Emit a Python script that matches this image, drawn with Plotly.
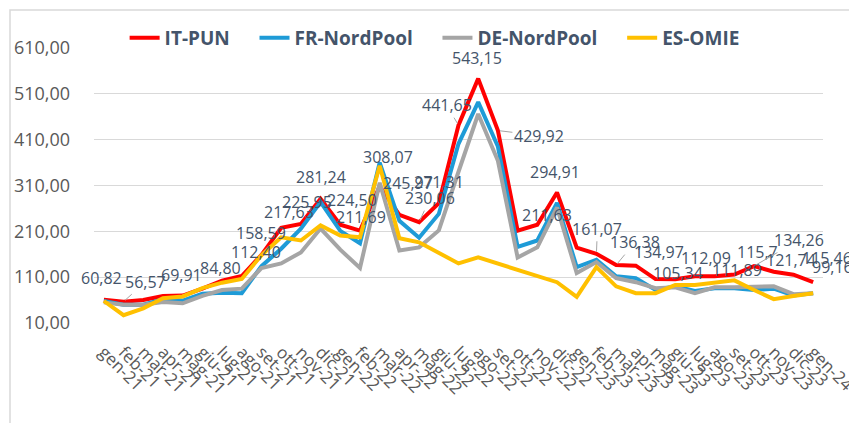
import plotly.graph_objects as go

months = ["gen-21","feb-21","mar-21","apr-21","mag-21","giu-21","lug-21","ago-21","set-21","ott-21","nov-21","dic-21",
          "gen-22","feb-22","mar-22","apr-22","mag-22","giu-22","lug-22","ago-22","set-22","ott-22","nov-22","dic-22",
          "gen-23","feb-23","mar-23","apr-23","mag-23","giu-23","lug-23","ago-23","set-23","ott-23","nov-23","dic-23",
          "gen-24"]

it_pun = [60.82, 56.57, 60.37, 69.02, 69.91, 84.80, 102.65, 112.40, 158.59, 217.63, 225.95, 281.24,
          224.50, 211.69, 308.07, 245.97, 230.06, 271.31, 441.65, 543.15, 429.92, 211.63, 224.51, 294.91,
          174.49, 161.07, 136.38, 134.97, 105.73, 105.34, 112.09, 111.89, 115.71, 134.26, 121.74, 115.46,
          99.16]
fr_nordpool = [58, 50, 50, 62, 59, 74, 76, 75, 134, 172, 216, 274,
               211, 184, 360, 233, 196, 248, 401, 492, 395, 176, 190, 272,
               132, 148, 112, 108, 82, 90, 80, 86, 86, 82, 85, 70,
               75]
de_nordpool = [55, 50, 50, 56, 53, 69, 82, 85, 130, 140, 164, 216,
               170, 130, 316, 168, 175, 212, 340, 466, 364, 153, 175, 262,
               119, 143, 108, 99, 86, 88, 75, 88, 88, 88, 90, 73,
               75]
es_omie = [58, 27, 42, 64, 68, 86, 98, 106, 158, 197, 190, 223,
           201, 197, 353, 195, 186, 164, 140, 153, 140, 125, 114, 99,
           67, 132, 90, 75, 75, 93, 93, 97, 103, 82, 62, 69,
           75]

series_names = ["IT-PUN", "FR-NordPool", "DE-NordPool", "ES-OMIE"]
series_colors = ["#FF0000", "#1E9BD7", "#A5A5A5", "#FFC000"]

y_tickvals = [10, 110, 210, 310, 410, 510, 610]
y_ticktext = ["10,00", "110,00", "210,00", "310,00", "410,00", "510,00", "610,00"]

# IT-PUN data labels: (index, text)
label_idx = [0, 1, 4, 5, 7, 8, 9, 10, 11, 12, 13, 14, 15, 16, 17, 18, 19, 20, 21, 23,
             25, 26, 27, 29, 30, 31, 32, 33, 34, 35, 36]
label_txt = ["60,82", "56,57", "69,91", "84,80", "112,40", "158,59", "217,63", "225,95", "281,24",
             "224,50", "211,69", "308,07", "245,97", "230,06", "271,31", "441,65", "543,15", "429,92",
             "211,63", "294,91", "161,07", "136,38", "134,97", "105,34", "112,09", "111,89", "115,7",
             "134,26", "121,74", "115,46", "99,16"]

# label placement styles (pixel offsets dx, dy and leader-line flag)
label_style = [(-2, -22, False), (22, -20, True), (-1, -21, False), (18, -21, False), (14, -24, False),
               (0, -22, False), (8, -16, False), (6, -22, False), (0, -22, False), (12, -25, False),
               (1, -14, False), (8, -29, False), (9, -32, False), (11, -24, True), (0, -21, False),
               (-12, -20, True), (-1, -21, False), (41, 5, True), (29, -16, False), (-2, -20, False),
               (1, -25, True), (19, -23, True), (23, -14, False), (3, -6, False), (11, -18, False),
               (22, -6, False), (23, -23, False), (45, -26, True), (17, -12, False), (34, -17, False),
               (19, -15, False)]

PAD = "\u00a0" * 4

fig = go.Figure()
for name, vals, col in zip(series_names, [it_pun, fr_nordpool, de_nordpool, es_omie], series_colors):
    fig.add_trace(go.Scatter(x=months, y=vals, mode="lines", name=name + PAD,
                             line=dict(color=col, width=4), hoverinfo="x+y+name"))

label_font = dict(family="Open Sans, sans-serif", size=16, color="#44546A")
annotations = []
for i, txt, (dx, dy, lead) in zip(label_idx, label_txt, label_style):
    if lead:
        annotations.append(dict(x=months[i], y=it_pun[i], xref="x", yref="y", text=txt,
                                showarrow=True, ax=dx, ay=dy, arrowhead=0, arrowwidth=1,
                                arrowcolor="#A6A6A6", standoff=2, font=label_font))
    else:
        annotations.append(dict(x=months[i], y=it_pun[i], xref="x", yref="y", text=txt,
                                showarrow=False, xshift=dx, yshift=-dy, font=label_font))

fig.update_layout(
    width=857, height=423,
    margin=dict(l=86, r=42, t=40, b=108, autoexpand=False),
    paper_bgcolor="white", plot_bgcolor="white",
    font=dict(family="Open Sans, sans-serif", color="#595959"),
    showlegend=True,
    legend=dict(orientation="h", x=0.042, xanchor="left", y=1.037, yanchor="middle",
                font=dict(family="Open Sans, sans-serif", size=19, color="#44546A", weight="bold"),
                bgcolor="rgba(0,0,0,0)"),
    xaxis=dict(type="category", range=[-0.5, 36.5], showgrid=False, zeroline=False,
               showline=False, ticks="", tickangle=45, automargin=False, ticklabelstandoff=15,
               tickmode="array", tickvals=months, ticktext=months,
               tickfont=dict(size=17, color="#595959")),
    yaxis=dict(range=[10, 610], tickvals=y_tickvals, ticktext=y_ticktext, showgrid=True,
               gridcolor="#D9D9D9", gridwidth=1, zeroline=False, showline=False, ticks="",
               automargin=False, ticklabelstandoff=23, tickfont=dict(size=18, color="#595959")),
    annotations=annotations,
    shapes=[dict(type="rect", xref="paper", yref="paper", x0=(10 - 94) / 729, x1=1.2,
                 y0=-0.5, y1=(323 - 10) / 275, line=dict(color="#D9D9D9", width=1.5),
                 fillcolor="rgba(0,0,0,0)", layer="below")],
)

fig.write_html("out.html")
